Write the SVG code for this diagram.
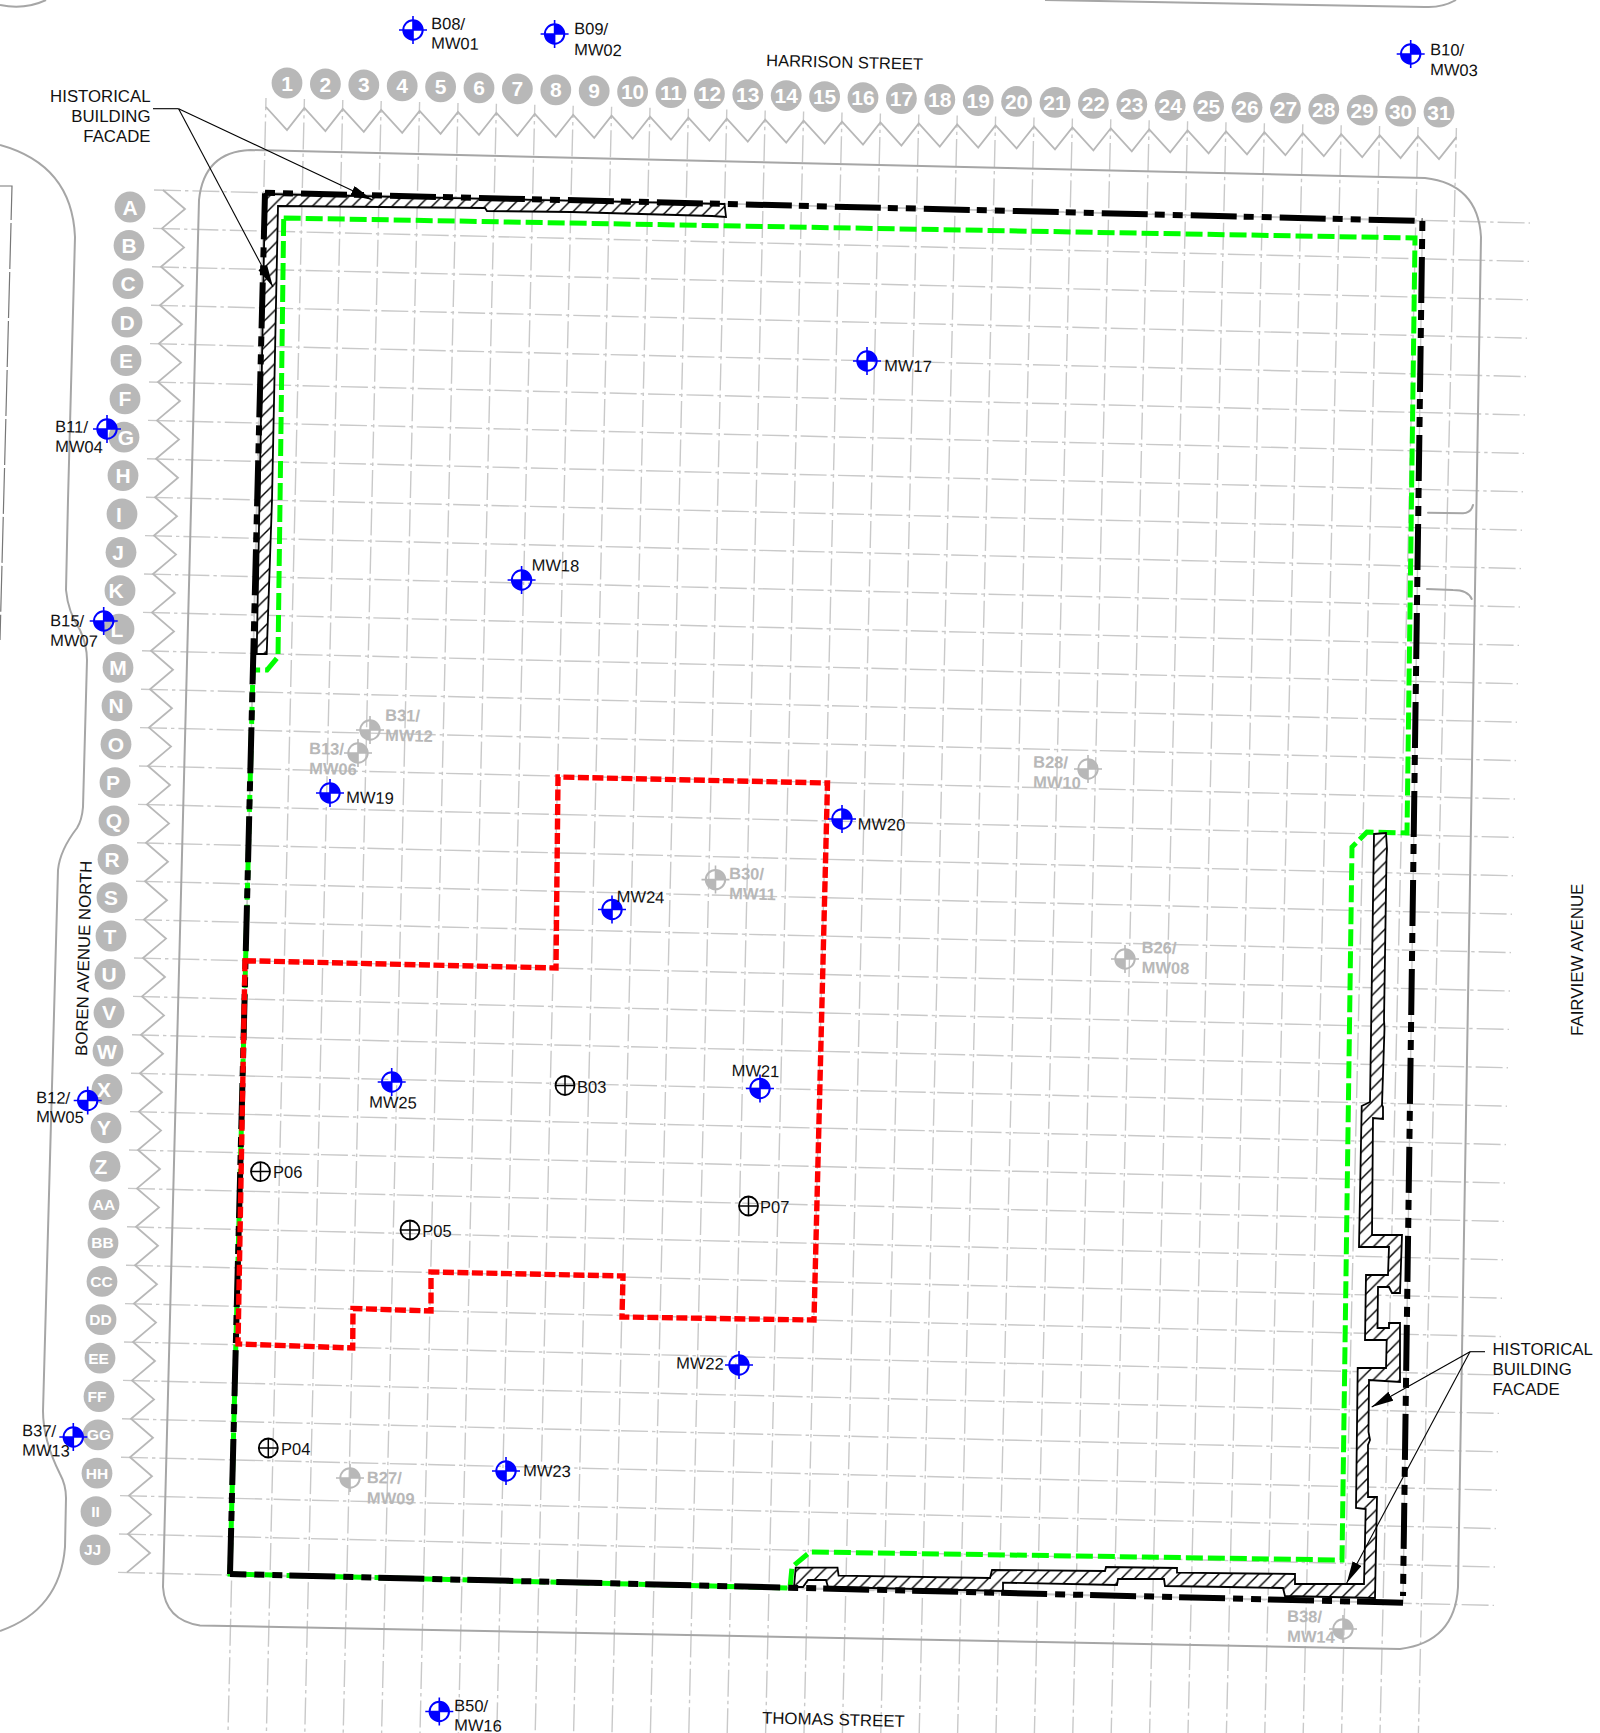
<svg xmlns="http://www.w3.org/2000/svg" width="1600" height="1733" viewBox="0 0 1600 1733">
<style>
text{font-family:"Liberation Sans",Arial,sans-serif;font-size:16.5px;fill:#111}
.grid{fill:none;stroke:#c9c9c9;stroke-width:1.4;stroke-dasharray:27 4 3.4 4}
.zig{fill:none;stroke:#b8b8b8;stroke-width:1.8}
.out{fill:none;stroke:#a6a6a6;stroke-width:2}
.bub circle{fill:#b8b8b8}
.bub text{fill:#fff;font-weight:bold;font-size:21px;text-anchor:middle}
.bub text.s{font-size:15.5px}
.gt text{fill:#b8b8b8;font-weight:bold}
.green{fill:none;stroke:#00ff00;stroke-width:5;stroke-dasharray:17 5}
.red{fill:none;stroke:#ff0000;stroke-width:5.4;stroke-dasharray:11 3.5}
.blk{stroke:#000;stroke-width:6;fill:none}
.a{stroke-dasharray:10 8 10 8 46 7}
.b{stroke-dasharray:46 7 10 8 10 8}
.fac{fill:url(#hatch);stroke:#000;stroke-width:1.8}
.lead{fill:none;stroke:#000;stroke-width:1.1}
</style>
<defs>
<pattern id="hatch" patternUnits="userSpaceOnUse" width="13.3" height="13.3"><rect width="13.3" height="13.3" fill="#fff"/><path d="M-1 14.3L14.3 -1M-3 3L3 -3M10.3 16.3L16.3 10.3" stroke="#000" stroke-width="1.4" fill="none"/></pattern>
<marker id="arr" markerUnits="userSpaceOnUse" markerWidth="24" markerHeight="12" refX="22" refY="5" orient="auto"><path d="M0 0L22 5L0 10Z" fill="#000"/></marker>
<g id="mw"><circle r="9.7" fill="none" stroke="#0000ff" stroke-width="2"/><path d="M0 0V-9.7A9.7 9.7 0 0 1 9.7 0ZM0 0V9.7A9.7 9.7 0 0 1 -9.7 0Z" fill="#0000ff"/><path d="M-14 0H14M0-14V14" stroke="#0000ff" stroke-width="1.6"/></g>
<g id="gw"><circle r="9.7" fill="none" stroke="#b8b8b8" stroke-width="2"/><path d="M0 0V-9.7A9.7 9.7 0 0 1 9.7 0ZM0 0V9.7A9.7 9.7 0 0 1 -9.7 0Z" fill="#b8b8b8"/><path d="M-14 0H14M0-14V14" stroke="#b8b8b8" stroke-width="1.6"/></g>
<g id="bk"><circle r="9.5" fill="none" stroke="#000" stroke-width="1.8"/><path d="M-9.5 0H9.5M0-9.5V9.5" stroke="#000" stroke-width="1.5"/></g>
</defs>

<g id="gridlines">
<path class="grid" stroke-dashoffset="14.8" d="M266 98L228 1733M304.4 99L266.4 1733M342.8 99.9L304.8 1733M381.2 100.9L343.2 1733M419.6 101.9L381.6 1733M458 102.9L420 1733M496.4 103.8L458.4 1733M534.8 104.8L496.8 1733M573.2 105.8L535.2 1733M611.6 106.7L573.6 1733M650 107.7L612 1733M688.4 108.7L650.4 1733M726.8 109.6L688.8 1733M765.2 110.6L727.2 1733M803.6 111.6L765.6 1733M842 112.6L804 1733M880.4 113.5L842.4 1733M918.8 114.5L880.8 1733M957.2 115.5L919.2 1733M995.6 116.4L957.6 1733M1034 117.4L996 1733M1072.4 118.4L1034.4 1733M1110.8 119.3L1072.8 1733M1149.2 120.3L1111.2 1733M1187.6 121.3L1149.6 1733M1226 122.3L1188 1733M1264.4 123.2L1226.4 1733M1302.8 124.2L1264.8 1733M1341.2 125.2L1303.2 1733M1379.6 126.1L1341.6 1733M1418 127.1L1380 1733M1456.4 128.1L1418.4 1733"/>
<path class="grid" d="M154 190L1530 223M153 228.4L1529 261.4M152 266.8L1528 299.8M151 305.2L1527 338.2M150 343.6L1526 376.6M149 382L1525 415M148 420.4L1524 453.4M147 458.8L1523 491.8M146 497.2L1522 530.2M145 535.6L1521 568.6M144 574L1520 607M143 612.4L1519 645.4M142 650.8L1518 683.8M141 689.2L1517 722.2M140 727.6L1516 760.6M139 766L1515 799M138 804.4L1514 837.4M137 842.8L1513 875.8M136 881.2L1512 914.2M135 919.6L1511 952.6M134 958L1510 991M133 996.4L1509 1029.4M132 1034.8L1508 1067.8M131 1073.2L1507 1106.2M130 1111.6L1506 1144.6M129 1150L1505 1183M128 1188.4L1504 1221.4M127 1226.8L1503 1259.8M126 1265.2L1502 1298.2M125 1303.6L1501 1336.6M124 1342L1500 1375M123 1380.4L1499 1413.4M122 1418.8L1498 1451.8M121 1457.2L1497 1490.2M120 1495.6L1496 1528.6M119 1534L1495 1567M118 1572.4L1494 1605.4"/>
<polyline class="zig" points="266,107 287,130 304.4,108 325.4,131 342.8,108.9 363.8,131.9 381.2,109.9 402.2,132.9 419.6,110.9 440.6,133.9 458,111.9 479,134.9 496.4,112.8 517.4,135.8 534.8,113.8 555.8,136.8 573.2,114.8 594.2,137.8 611.6,115.7 632.6,138.7 650,116.7 671,139.7 688.4,117.7 709.4,140.7 726.8,118.6 747.8,141.6 765.2,119.6 786.2,142.6 803.6,120.6 824.6,143.6 842,121.6 863,144.6 880.4,122.5 901.4,145.5 918.8,123.5 939.8,146.5 957.2,124.5 978.2,147.5 995.6,125.4 1016.6,148.4 1034,126.4 1055,149.4 1072.4,127.4 1093.4,150.4 1110.8,128.3 1131.8,151.3 1149.2,129.3 1170.2,152.3 1187.6,130.3 1208.6,153.3 1226,131.3 1247,154.3 1264.4,132.2 1285.4,155.2 1302.8,133.2 1323.8,156.2 1341.2,134.2 1362.2,157.2 1379.6,135.1 1400.6,158.1 1418,136.1 1439,159.1 1456.4,137.1"/>
<polyline class="zig" points="163,190 185,209 162,228.4 184,247.4 161,266.8 183,285.8 160,305.2 182,324.2 159,343.6 181,362.6 158,382 180,401 157,420.4 179,439.4 156,458.8 178,477.8 155,497.2 177,516.2 154,535.6 176,554.6 153,574 175,593 152,612.4 174,631.4 151,650.8 173,669.8 150,689.2 172,708.2 149,727.6 171,746.6 148,766 170,785 147,804.4 169,823.4 146,842.8 168,861.8 145,881.2 167,900.2 144,919.6 166,938.6 143,958 165,977 142,996.4 164,1015.4 141,1034.8 163,1053.8 140,1073.2 162,1092.2 139,1111.6 161,1130.6 138,1150 160,1169 137,1188.4 159,1207.4 136,1226.8 158,1245.8 135,1265.2 157,1284.2 134,1303.6 156,1322.6 133,1342 155,1361 132,1380.4 154,1399.4 131,1418.8 153,1437.8 130,1457.2 152,1476.2 129,1495.6 151,1514.6 128,1534 150,1553 127,1572.4"/>
</g>

<g id="outlines">
<path class="out" d="M250 150L1425 178Q1478 184 1481 237L1458 1587Q1455 1642 1400 1649L200 1625.5Q165 1620 163 1587L199 200Q204 152 250 150Z"/>
<path class="out" d="M0 145Q72 165 75 237L68 500L66 590Q68 612 80 630Q87 645 87 660L83 807Q82 820 77 828Q60 850 58 870L43 1411Q43 1440 60 1474Q66 1485 66 1498L65 1547Q60 1610 0 1631"/>
<path class="out" d="M0 5Q25 10 46 0M1045 0L1425 7Q1442 8 1456 0"/>
<path class="out" stroke-linecap="round" d="M1428 512.7L1463 513.3Q1471 513 1473 505M1427 589L1453 590Q1468 590 1471.7 599"/>
<path fill="none" stroke="#777" stroke-width="1.2" stroke-dasharray="46 3" d="M0 186H12L0 640"/>
</g>

<g id="connectors">
<path id="property-base" fill="none" stroke="#c9c9c9" stroke-width="1.4" d="M265 192.7L1422.4 221L1403 1602.7L230 1574Z"/>
<path id="green-boundary" class="green" d="M283.7 218L1415 238L1407 833L1367 832L1352 847L1342 1560L810 1552L792 1567L790 1588L230 1574L253 670H267L278 657Z"/>
<path id="facade-nw" class="fac" d="M265 194L724.5 204L726 217L712 216L571 212L487 211L485 208L278 206L272 500L266.7 654L256.7 654Z"/>
<path id="facade-se" class="fac" d="M1374 834L1386 833L1387 849L1386.5 858L1384 1020L1384.5 1028L1382 1105L1383 1107L1383 1119L1373 1118L1372 1235L1402 1235L1400 1293L1392 1293L1389 1287L1378 1287L1377.5 1328L1389 1328L1389 1323L1400 1323L1400 1382L1369 1380L1368.5 1432L1370 1440L1368 1445L1368 1497L1377 1497L1375 1598L1285 1596L1283 1588L1228 1587L1165 1586L1164 1579L1118 1579L1117 1585L1003 1582.7L1003 1591L828 1587L826 1580L808 1580L803 1587L794 1587L795.7 1567.7L837.5 1567.7L838.6 1575.7L990 1578L992 1570L1105 1571L1106 1567L1177 1568L1177 1572.7L1295 1574L1295 1584L1364 1584L1365.7 1509L1356 1508L1357.7 1368L1386 1368L1386.7 1340L1365 1340L1366 1275L1388 1275L1389 1247L1359 1247L1361.7 1106L1370 1102Z"/>
<line class="blk a" x1="265" y1="192.7" x2="1422.4" y2="221"/>
<line class="blk a" x1="1422.4" y1="221" x2="1403" y2="1596"/>
<line class="blk b" x1="1403" y1="1602.7" x2="230" y2="1574"/>
<line class="blk b" x1="230" y1="1574" x2="265" y2="192.7"/>
<path id="red-area" class="red" d="M245 960.7L556 968L558 777L827.5 783L814 1320L622 1317L623 1276L431 1272V1311L353 1308.5L352.7 1348L238 1344Z"/>
<path class="lead" d="M153 108.7H178.6" stroke-width="1.6"/>
<path class="lead" marker-end="url(#arr)" d="M178.6 108.7L372.4 200"/>
<path class="lead" marker-end="url(#arr)" d="M178.6 108.7L273 287"/>
<path class="lead" d="M1485 1351.7H1470" stroke-width="1.6"/>
<path class="lead" marker-end="url(#arr)" d="M1470 1351.7L1371.7 1407"/>
<path class="lead" marker-end="url(#arr)" d="M1470 1351.7L1346.7 1583"/>
</g>

<g id="col-bubbles" class="bub">
<g id="c1"><circle cx="287" cy="83" r="15.4"/><text x="287" y="90.5">1</text></g>
<g id="c2"><circle cx="325.4" cy="84" r="15.4"/><text x="325.4" y="91.5">2</text></g>
<g id="c3"><circle cx="363.8" cy="84.9" r="15.4"/><text x="363.8" y="92.4">3</text></g>
<g id="c4"><circle cx="402.2" cy="85.9" r="15.4"/><text x="402.2" y="93.4">4</text></g>
<g id="c5"><circle cx="440.6" cy="86.9" r="15.4"/><text x="440.6" y="94.4">5</text></g>
<g id="c6"><circle cx="479" cy="87.9" r="15.4"/><text x="479" y="95.4">6</text></g>
<g id="c7"><circle cx="517.4" cy="88.8" r="15.4"/><text x="517.4" y="96.3">7</text></g>
<g id="c8"><circle cx="555.8" cy="89.8" r="15.4"/><text x="555.8" y="97.3">8</text></g>
<g id="c9"><circle cx="594.2" cy="90.8" r="15.4"/><text x="594.2" y="98.3">9</text></g>
<g id="c10"><circle cx="632.6" cy="91.7" r="15.4"/><text x="632.6" y="99.2">10</text></g>
<g id="c11"><circle cx="671" cy="92.7" r="15.4"/><text x="671" y="100.2">11</text></g>
<g id="c12"><circle cx="709.4" cy="93.7" r="15.4"/><text x="709.4" y="101.2">12</text></g>
<g id="c13"><circle cx="747.8" cy="94.6" r="15.4"/><text x="747.8" y="102.1">13</text></g>
<g id="c14"><circle cx="786.2" cy="95.6" r="15.4"/><text x="786.2" y="103.1">14</text></g>
<g id="c15"><circle cx="824.6" cy="96.6" r="15.4"/><text x="824.6" y="104.1">15</text></g>
<g id="c16"><circle cx="863" cy="97.6" r="15.4"/><text x="863" y="105.1">16</text></g>
<g id="c17"><circle cx="901.4" cy="98.5" r="15.4"/><text x="901.4" y="106">17</text></g>
<g id="c18"><circle cx="939.8" cy="99.5" r="15.4"/><text x="939.8" y="107">18</text></g>
<g id="c19"><circle cx="978.2" cy="100.5" r="15.4"/><text x="978.2" y="108">19</text></g>
<g id="c20"><circle cx="1016.6" cy="101.4" r="15.4"/><text x="1016.6" y="108.9">20</text></g>
<g id="c21"><circle cx="1055" cy="102.4" r="15.4"/><text x="1055" y="109.9">21</text></g>
<g id="c22"><circle cx="1093.4" cy="103.4" r="15.4"/><text x="1093.4" y="110.9">22</text></g>
<g id="c23"><circle cx="1131.8" cy="104.3" r="15.4"/><text x="1131.8" y="111.8">23</text></g>
<g id="c24"><circle cx="1170.2" cy="105.3" r="15.4"/><text x="1170.2" y="112.8">24</text></g>
<g id="c25"><circle cx="1208.6" cy="106.3" r="15.4"/><text x="1208.6" y="113.8">25</text></g>
<g id="c26"><circle cx="1247" cy="107.3" r="15.4"/><text x="1247" y="114.8">26</text></g>
<g id="c27"><circle cx="1285.4" cy="108.2" r="15.4"/><text x="1285.4" y="115.7">27</text></g>
<g id="c28"><circle cx="1323.8" cy="109.2" r="15.4"/><text x="1323.8" y="116.7">28</text></g>
<g id="c29"><circle cx="1362.2" cy="110.2" r="15.4"/><text x="1362.2" y="117.7">29</text></g>
<g id="c30"><circle cx="1400.6" cy="111.1" r="15.4"/><text x="1400.6" y="118.6">30</text></g>
<g id="c31"><circle cx="1439" cy="112.1" r="15.4"/><text x="1439" y="119.6">31</text></g>
</g>

<g id="row-bubbles" class="bub">
<g id="rA"><circle cx="130" cy="207" r="15.4"/><text x="130" y="214.5">A</text></g>
<g id="rB"><circle cx="129" cy="245.4" r="15.4"/><text x="129" y="252.9">B</text></g>
<g id="rC"><circle cx="128" cy="283.7" r="15.4"/><text x="128" y="291.2">C</text></g>
<g id="rD"><circle cx="127" cy="322.1" r="15.4"/><text x="127" y="329.6">D</text></g>
<g id="rE"><circle cx="126" cy="360.5" r="15.4"/><text x="126" y="368">E</text></g>
<g id="rF"><circle cx="125" cy="398.9" r="15.4"/><text x="125" y="406.4">F</text></g>
<g id="rG"><circle cx="124" cy="437.2" r="15.4"/><text x="126" y="444.7">G</text></g>
<g id="rH"><circle cx="123" cy="475.6" r="15.4"/><text x="123" y="483.1">H</text></g>
<g id="rI"><circle cx="122" cy="514" r="15.4"/><text x="119" y="521.5">I</text></g>
<g id="rJ"><circle cx="121" cy="552.3" r="15.4"/><text x="118" y="559.8">J</text></g>
<g id="rK"><circle cx="120" cy="590.7" r="15.4"/><text x="116" y="598.2">K</text></g>
<g id="rL"><circle cx="119" cy="629.1" r="15.4"/><text x="117" y="636.6">L</text></g>
<g id="rM"><circle cx="118" cy="667.4" r="15.4"/><text x="118" y="674.9">M</text></g>
<g id="rN"><circle cx="117" cy="705.8" r="15.4"/><text x="116" y="713.3">N</text></g>
<g id="rO"><circle cx="116" cy="744.2" r="15.4"/><text x="116" y="751.7">O</text></g>
<g id="rP"><circle cx="115" cy="782.6" r="15.4"/><text x="113" y="790.1">P</text></g>
<g id="rQ"><circle cx="114" cy="820.9" r="15.4"/><text x="114" y="828.4">Q</text></g>
<g id="rR"><circle cx="113" cy="859.3" r="15.4"/><text x="112" y="866.8">R</text></g>
<g id="rS"><circle cx="112" cy="897.7" r="15.4"/><text x="111" y="905.2">S</text></g>
<g id="rT"><circle cx="111" cy="936" r="15.4"/><text x="110" y="943.5">T</text></g>
<g id="rU"><circle cx="110" cy="974.4" r="15.4"/><text x="109" y="981.9">U</text></g>
<g id="rV"><circle cx="109" cy="1012.8" r="15.4"/><text x="109" y="1020.3">V</text></g>
<g id="rW"><circle cx="108" cy="1051.1" r="15.4"/><text x="107" y="1058.6">W</text></g>
<g id="rX"><circle cx="107" cy="1089.5" r="15.4"/><text x="104" y="1097">X</text></g>
<g id="rY"><circle cx="106" cy="1127.9" r="15.4"/><text x="104" y="1135.4">Y</text></g>
<g id="rZ"><circle cx="105" cy="1166.3" r="15.4"/><text x="101" y="1173.8">Z</text></g>
<g id="rAA"><circle cx="104" cy="1204.6" r="15.4"/><text class="s" x="104" y="1210">AA</text></g>
<g id="rBB"><circle cx="103" cy="1243" r="15.4"/><text class="s" x="102.5" y="1248.4">BB</text></g>
<g id="rCC"><circle cx="102" cy="1281.4" r="15.4"/><text class="s" x="101.5" y="1286.8">CC</text></g>
<g id="rDD"><circle cx="101" cy="1319.7" r="15.4"/><text class="s" x="100.5" y="1325.1">DD</text></g>
<g id="rEE"><circle cx="100" cy="1358.1" r="15.4"/><text class="s" x="98.5" y="1363.5">EE</text></g>
<g id="rFF"><circle cx="99" cy="1396.5" r="15.4"/><text class="s" x="97" y="1401.9">FF</text></g>
<g id="rGG"><circle cx="98" cy="1434.8" r="15.4"/><text class="s" x="99" y="1440.2">GG</text></g>
<g id="rHH"><circle cx="97" cy="1473.2" r="15.4"/><text class="s" x="97" y="1478.6">HH</text></g>
<g id="rII"><circle cx="96" cy="1511.6" r="15.4"/><text class="s" x="95.5" y="1517">II</text></g>
<g id="rJJ"><circle cx="95" cy="1549.9" r="15.4"/><text class="s" x="92.5" y="1555.3">JJ</text></g>
</g>

<g id="wells">
<g id="B08"><use href="#mw" x="413" y="30"/><text x="431" y="29" transform="rotate(1.4 431 29)">B08/</text><text x="431" y="48.5" transform="rotate(1.4 431 48.5)">MW01</text></g>
<g id="B09"><use href="#mw" x="554.6" y="34"/><text x="574" y="34" transform="rotate(1.4 574 34)">B09/</text><text x="574" y="55" transform="rotate(1.4 574 55)">MW02</text></g>
<g id="B10"><use href="#mw" x="1410.7" y="54"/><text x="1430" y="55" transform="rotate(1.4 1430 55)">B10/</text><text x="1430" y="75" transform="rotate(1.4 1430 75)">MW03</text></g>
<g id="MW17"><use href="#mw" x="867" y="361"/><text x="884" y="371" transform="rotate(1.4 884 371)">MW17</text></g>
<g id="B11"><use href="#mw" x="107" y="429"/><text x="55" y="432" transform="rotate(1.4 55 432)">B11/</text><text x="55" y="451.7" transform="rotate(1.4 55 451.7)">MW04</text></g>
<g id="B15"><use href="#mw" x="103.7" y="621"/><text x="50" y="626" transform="rotate(1.4 50 626)">B15/</text><text x="50" y="645.7" transform="rotate(1.4 50 645.7)">MW07</text></g>
<g id="MW19"><use href="#mw" x="330" y="793"/><text x="346" y="802.7" transform="rotate(1.4 346 802.7)">MW19</text></g>
<g id="MW18"><use href="#mw" x="521.6" y="580"/><text x="531.5" y="570.5" transform="rotate(1.4 531.5 570.5)">MW18</text></g>
<g id="MW20"><use href="#mw" x="842" y="819"/><text x="857.5" y="829.5" transform="rotate(1.4 857.5 829.5)">MW20</text></g>
<g id="MW24"><use href="#mw" x="612" y="909.5"/><text x="616.6" y="902" transform="rotate(1.4 616.6 902)">MW24</text></g>
<g id="MW25"><use href="#mw" x="391.7" y="1082"/><text x="369" y="1107.5" transform="rotate(1.4 369 1107.5)">MW25</text></g>
<g id="MW21"><use href="#mw" x="760" y="1088.5"/><text x="731.5" y="1076" transform="rotate(1.4 731.5 1076)">MW21</text></g>
<g id="MW22"><use href="#mw" x="739" y="1365"/><text x="676" y="1368.5" transform="rotate(1.4 676 1368.5)">MW22</text></g>
<g id="MW23"><use href="#mw" x="506" y="1471"/><text x="523" y="1476" transform="rotate(1.4 523 1476)">MW23</text></g>
<g id="B12"><use href="#mw" x="87.7" y="1100.5"/><text x="36" y="1103" transform="rotate(1.4 36 1103)">B12/</text><text x="36" y="1122" transform="rotate(1.4 36 1122)">MW05</text></g>
<g id="B37"><use href="#mw" x="73.3" y="1437"/><text x="22" y="1436" transform="rotate(1.4 22 1436)">B37/</text><text x="22" y="1455.5" transform="rotate(1.4 22 1455.5)">MW13</text></g>
<g id="B50"><use href="#mw" x="439.3" y="1711.5"/><text x="454" y="1711" transform="rotate(1.4 454 1711)">B50/</text><text x="454" y="1730.5" transform="rotate(1.4 454 1730.5)">MW16</text></g>
</g>

<g id="gray-wells" class="gt">
<g id="B31"><use href="#gw" x="370" y="730"/><text x="385" y="720.7" transform="rotate(1.4 385 720.7)">B31/</text><text x="385" y="740.7" transform="rotate(1.4 385 740.7)">MW12</text></g>
<g id="B13"><use href="#gw" x="358" y="753"/><text x="309" y="754" transform="rotate(1.4 309 754)">B13/</text><text x="309" y="774" transform="rotate(1.4 309 774)">MW06</text></g>
<g id="B28"><use href="#gw" x="1088" y="769"/><text x="1033" y="767.5" transform="rotate(1.4 1033 767.5)">B28/</text><text x="1033" y="787.5" transform="rotate(1.4 1033 787.5)">MW10</text></g>
<g id="B30"><use href="#gw" x="715.5" y="879.6"/><text x="729" y="879" transform="rotate(1.4 729 879)">B30/</text><text x="729" y="899" transform="rotate(1.4 729 899)">MW11</text></g>
<g id="B26"><use href="#gw" x="1125" y="959"/><text x="1141.5" y="953" transform="rotate(1.4 1141.5 953)">B26/</text><text x="1141.5" y="973" transform="rotate(1.4 1141.5 973)">MW08</text></g>
<g id="B27"><use href="#gw" x="350" y="1478"/><text x="366.7" y="1483" transform="rotate(1.4 366.7 1483)">B27/</text><text x="366.7" y="1503.5" transform="rotate(1.4 366.7 1503.5)">MW09</text></g>
<g id="B38"><use href="#gw" x="1343" y="1629"/><text x="1287" y="1621.7" transform="rotate(1.4 1287 1621.7)">B38/</text><text x="1287" y="1641.7" transform="rotate(1.4 1287 1641.7)">MW14</text></g>
</g>

<g id="probes">
<g id="P06"><use href="#bk" x="260.5" y="1171.6"/><text x="273" y="1178">P06</text></g>
<g id="P05"><use href="#bk" x="410" y="1230"/><text x="422.3" y="1237">P05</text></g>
<g id="P04"><use href="#bk" x="268.3" y="1448"/><text x="281" y="1455">P04</text></g>
<g id="B03"><use href="#bk" x="565" y="1085.5"/><text x="577" y="1092.5">B03</text></g>
<g id="P07"><use href="#bk" x="748.5" y="1206"/><text x="760" y="1213">P07</text></g>
</g>

<g id="labels">
<text x="766" y="66" transform="rotate(1.4 766 66)">HARRISON STREET</text>
<text x="762" y="1723.5" style="font-size:16.8px" transform="rotate(1.4 762 1723.5)">THOMAS STREET</text>
<text x="87" y="1056" style="font-size:16.8px" transform="rotate(-88.6 87 1056)">BOREN AVENUE NORTH</text>
<text x="1582.7" y="1036" style="font-size:16.9px" transform="rotate(-90 1582.7 1036)">FAIRVIEW AVENUE</text>
<text x="150.5" y="102" text-anchor="end" style="font-size:16.8px">HISTORICAL</text>
<text x="150.5" y="122" text-anchor="end" style="font-size:16.8px">BUILDING</text>
<text x="150.5" y="142" text-anchor="end" style="font-size:16.8px">FACADE</text>
<text x="1492.5" y="1355" style="font-size:16.8px">HISTORICAL</text>
<text x="1492.5" y="1375" style="font-size:16.8px">BUILDING</text>
<text x="1492.5" y="1395" style="font-size:16.8px">FACADE</text>
</g>
</svg>
